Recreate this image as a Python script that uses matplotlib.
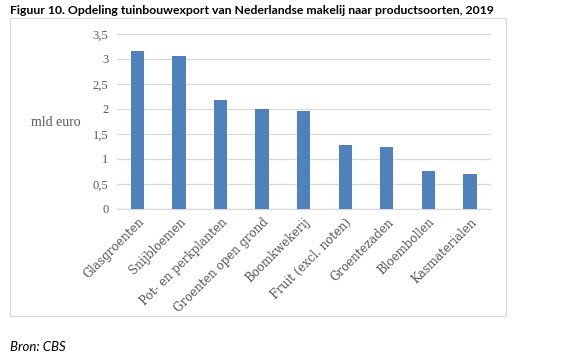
import numpy as np
import matplotlib
matplotlib.use("Agg")
import matplotlib.pyplot as plt
from matplotlib.patches import Rectangle

# Tuinbouwexport naar productsoorten, 2019 (mld euro)
categories = ["Glasgroenten", "Snijbloemen", "Pot- en perkplanten", "Groenten open grond",
              "Boomkwekerij", "Fruit (excl. noten)", "Groentezaden", "Bloembollen", "Kasmaterialen"]
values = [3.16, 3.06, 2.17, 1.99, 1.96, 1.27, 1.24, 0.76, 0.69]
yticks = [0, 0.5, 1, 1.5, 2, 2.5, 3, 3.5]
ytick_labels = ["0", "0,5", "1", "1,5", "2", "2,5", "3", "3,5"]

W, H = 562, 357
fig = plt.figure(figsize=(W / 100, H / 100), dpi=100)
ax = fig.add_axes([116.7 / W, 1 - 208.7 / H, (490.7 - 116.7) / W, (208.7 - 34) / H])

x = np.arange(len(categories))
ax.bar(x, values, width=0.32, color="#4F81BD", zorder=3)

ax.set_xlim(-0.5, len(categories) - 0.5)
ax.set_ylim(0, 3.5)
ax.set_yticks(yticks)
ax.set_yticklabels(ytick_labels, fontsize=9, family="Liberation Serif", color="#595959")
ax.set_xticks(x)
ax.set_xticklabels(categories, rotation=45, ha="right", rotation_mode="anchor",
                   fontsize=8.5, family="DejaVu Serif", color="#595959")
ax.tick_params(length=0, pad=6)
ax.tick_params(axis="x", pad=5)
ax.grid(axis="y", color="#d9d9d9", linewidth=0.9, zorder=0)
for s in ["top", "right", "left"]:
    ax.spines[s].set_visible(False)
ax.spines["bottom"].set_color("#d9d9d9")
ax.spines["bottom"].set_linewidth(0.9)

fig.text(56 / W, 1 - 123 / H, "mld euro", fontsize=10, family="Liberation Serif",
         color="#595959", ha="center", va="center")

# chart frame
fig.patches.append(Rectangle((10 / W, 1 - 316 / H), (506 - 10) / W, (316 - 18) / H,
                             transform=fig.transFigure, fill=False,
                             edgecolor="#d9d9d9", linewidth=0.9))

fig.text(10 / W, 1 - 11 / H, "Figuur 10. Opdeling tuinbouwexport van Nederlandse makelij naar productsoorten, 2019",
         fontsize=8.8, family="Lato", fontweight="bold", ha="left", va="center")
fig.text(10 / W, 1 - 347 / H, "Bron: CBS", fontsize=9.5, family="Lato", fontstyle="italic",
         ha="left", va="center")

fig.savefig("out.png", dpi=100)
